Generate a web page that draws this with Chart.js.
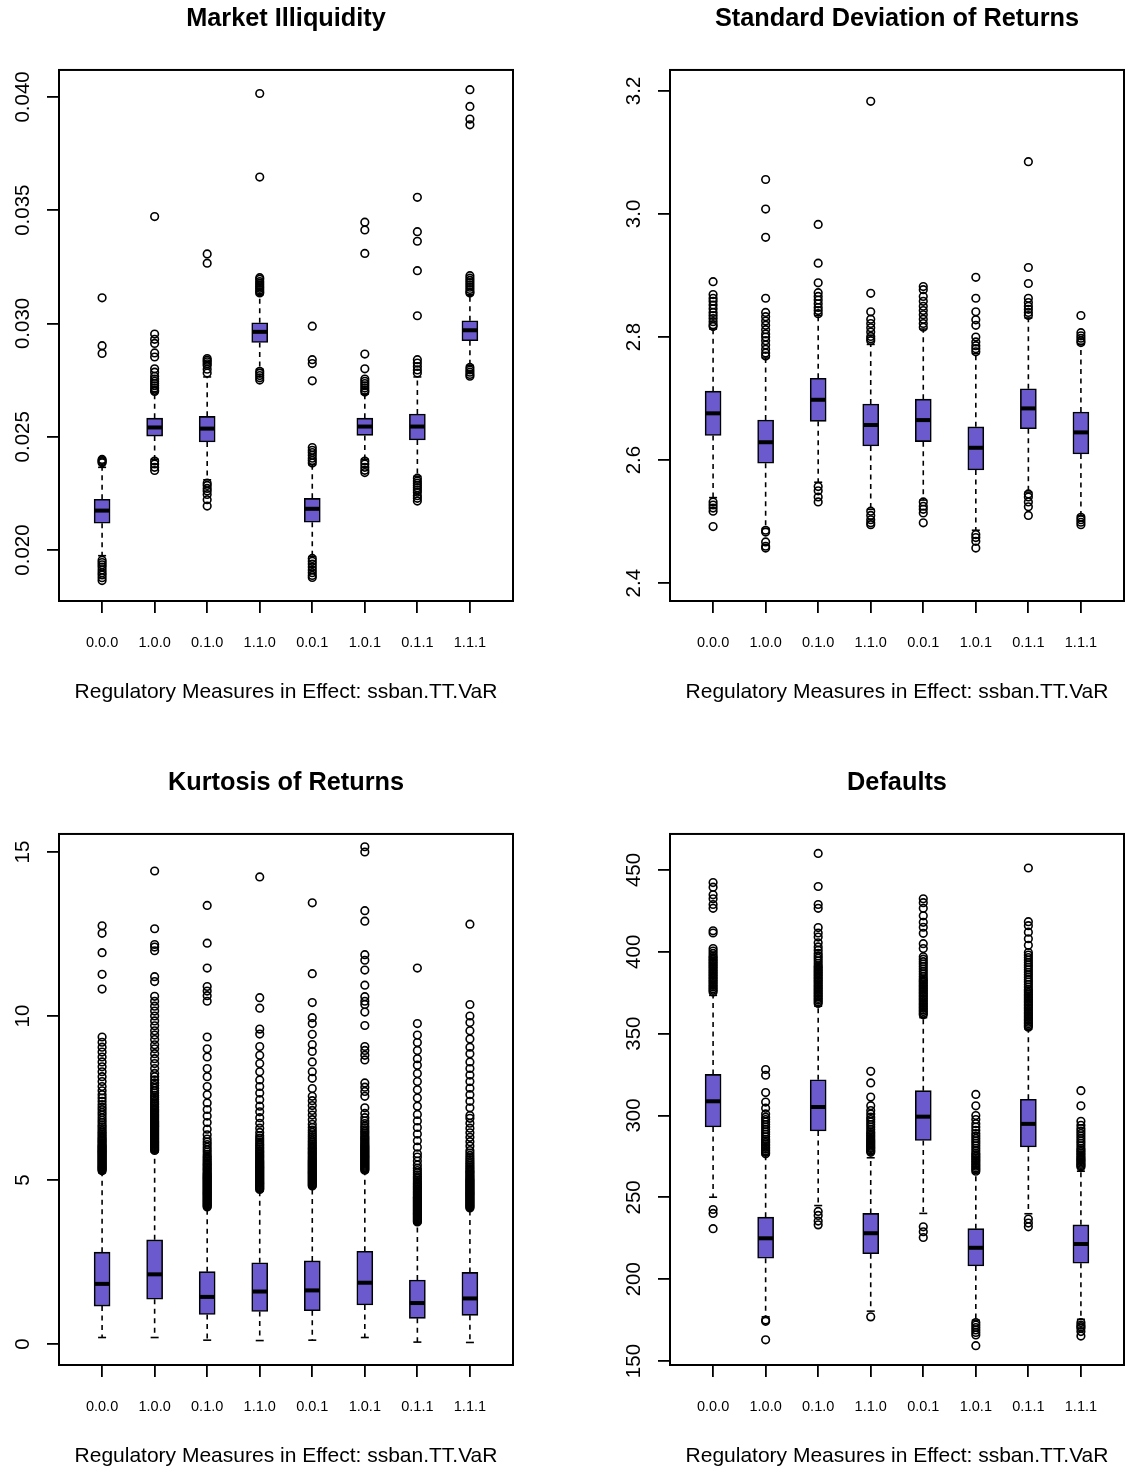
<!DOCTYPE html>
<html>
<head>
<meta charset="utf-8">
<title>Regulatory measures - boxplots</title>
<script src="https://cdn.jsdelivr.net/npm/chart.js@4.4.1/dist/chart.umd.min.js"></script>
<style>
	body { margin: 0; background: #fff; }
	#page { position: relative; width: 1130px; height: 1470px; overflow: hidden; }
	canvas { position: absolute; }
</style>
</head>
<body>
<div id="page">
	<canvas id="illiqChart" width="530" height="706" style="left:0;top:0"></canvas>
	<canvas id="sdChart" width="530" height="706" style="left:611px;top:0"></canvas>
	<canvas id="kurtChart" width="530" height="706" style="left:0;top:764px"></canvas>
	<canvas id="defaultChart" width="530" height="706" style="left:611px;top:764px"></canvas>
</div>
<script>
const categories = ["0.0.0", "1.0.0", "0.1.0", "1.1.0", "0.0.1", "1.0.1", "0.1.1", "1.1.1"];
const xAxisTitle = "Regulatory Measures in Effect: ssban.TT.VaR";

// Market Illiquidity
const illiqQ1 = [0.02118, 0.02503, 0.02477, 0.02916, 0.02123, 0.02506, 0.02486, 0.02924];
const illiqMed = [0.02174, 0.02541, 0.02536, 0.02963, 0.02182, 0.02545, 0.02545, 0.02970];
const illiqQ3 = [0.02224, 0.02582, 0.02590, 0.03003, 0.02228, 0.02582, 0.02600, 0.03012];
const illiqLo = [0.01975, 0.02401, 0.02310, 0.02798, 0.01971, 0.02401, 0.02326, 0.02815];
const illiqHi = [0.02365, 0.02697, 0.02764, 0.03127, 0.02376, 0.02688, 0.02764, 0.03127];
const illiqOut = [
	[0.03113, 0.02902, 0.02868, 0.02400, 0.02395, 0.02390, 0.02385, 0.01955, 0.01945, 0.01935, 0.01925, 0.01912, 0.01900, 0.01890, 0.01878, 0.01865],
	[0.03472, 0.02953, 0.02930, 0.02912, 0.02870, 0.02852, 0.02800, 0.02785, 0.02767, 0.02755, 0.02745, 0.02735, 0.02725, 0.02715, 0.02705, 0.02700, 0.02393, 0.02380, 0.02365, 0.02351],
	[0.03307, 0.03266, 0.02845, 0.02838, 0.02831, 0.02822, 0.02815, 0.02798, 0.02781, 0.02295, 0.02285, 0.02272, 0.02260, 0.02245, 0.02222, 0.02194],
	[0.04015, 0.03646, 0.03202, 0.03195, 0.03185, 0.03178, 0.03170, 0.03162, 0.03155, 0.03148, 0.03140, 0.03135, 0.02789, 0.02780, 0.02770, 0.02760, 0.02750],
	[0.02988, 0.02840, 0.02823, 0.02747, 0.02452, 0.02440, 0.02430, 0.02418, 0.02405, 0.02395, 0.02384, 0.01963, 0.01950, 0.01938, 0.01925, 0.01912, 0.01900, 0.01888, 0.01879],
	[0.03447, 0.03413, 0.03309, 0.02865, 0.02800, 0.02755, 0.02745, 0.02735, 0.02725, 0.02715, 0.02705, 0.02697, 0.02393, 0.02380, 0.02365, 0.02352, 0.02342],
	[0.03557, 0.03405, 0.03363, 0.03233, 0.03034, 0.02840, 0.02825, 0.02810, 0.02795, 0.02781, 0.02317, 0.02305, 0.02295, 0.02285, 0.02275, 0.02265, 0.02255, 0.02240, 0.02228, 0.02216],
	[0.04032, 0.03958, 0.03902, 0.03877, 0.03211, 0.03200, 0.03190, 0.03180, 0.03170, 0.03160, 0.03150, 0.03140, 0.03135, 0.02806, 0.02795, 0.02785, 0.02775, 0.02767]
];
const illiqTicks = [0.020, 0.025, 0.030, 0.035, 0.040];
const illiqTickLabels = ["0.020", "0.025", "0.030", "0.035", "0.040"];

// Standard Deviation of Returns
const sdQ1 = [2.640, 2.595, 2.663, 2.623, 2.630, 2.584, 2.651, 2.610];
const sdMed = [2.676, 2.629, 2.698, 2.657, 2.665, 2.620, 2.684, 2.645];
const sdQ3 = [2.712, 2.665, 2.733, 2.691, 2.699, 2.654, 2.716, 2.678];
const sdLo = [2.539, 2.489, 2.564, 2.520, 2.535, 2.486, 2.548, 2.510];
const sdHi = [2.813, 2.766, 2.835, 2.788, 2.813, 2.773, 2.831, 2.788];
const sdOut = [
	[2.890, 2.869, 2.863, 2.858, 2.852, 2.846, 2.840, 2.835, 2.830, 2.825, 2.820, 2.817, 2.532, 2.527, 2.522, 2.517, 2.492],
	[3.056, 3.008, 2.962, 2.863, 2.840, 2.833, 2.826, 2.819, 2.812, 2.805, 2.800, 2.794, 2.787, 2.780, 2.774, 2.769, 2.486, 2.483, 2.467, 2.460, 2.457],
	[2.983, 2.920, 2.888, 2.872, 2.866, 2.860, 2.854, 2.848, 2.843, 2.838, 2.557, 2.550, 2.540, 2.532],
	[3.183, 2.871, 2.841, 2.829, 2.822, 2.815, 2.808, 2.801, 2.797, 2.794, 2.517, 2.510, 2.503, 2.498, 2.495],
	[2.882, 2.877, 2.866, 2.858, 2.850, 2.843, 2.836, 2.829, 2.822, 2.816, 2.532, 2.525, 2.520, 2.514, 2.498],
	[2.897, 2.863, 2.841, 2.828, 2.819, 2.800, 2.792, 2.786, 2.781, 2.776, 2.479, 2.474, 2.468, 2.457],
	[3.085, 2.913, 2.887, 2.863, 2.856, 2.850, 2.845, 2.840, 2.835, 2.545, 2.540, 2.532, 2.524, 2.510],
	[2.835, 2.807, 2.802, 2.798, 2.794, 2.791, 2.507, 2.503, 2.499, 2.495]
];
const sdTicks = [2.4, 2.6, 2.8, 3.0, 3.2];
const sdTickLabels = ["2.4", "2.6", "2.8", "3.0", "3.2"];

// Kurtosis of Returns
const kurtQ1 = [1.156, 1.366, 0.899, 0.992, 1.016, 1.190, 0.782, 0.875];
const kurtMed = [1.833, 2.124, 1.436, 1.600, 1.634, 1.868, 1.249, 1.389];
const kurtQ3 = [2.800, 3.175, 2.206, 2.475, 2.533, 2.825, 1.949, 2.183];
const kurtLo = [0.198, 0.198, 0.117, 0.105, 0.117, 0.198, 0.058, 0.047];
const kurtHi = [5.22, 5.85, 4.15, 4.66, 4.78, 5.25, 3.68, 4.12];
const kurtOut = [
	[5.28, 5.31, 5.34, 5.37, 5.40, 5.43, 5.46, 5.49, 5.52, 5.55, 5.58, 5.61, 5.64, 5.67, 5.70, 5.73, 5.76, 5.79, 5.82, 5.85, 5.88, 5.91, 5.94, 5.97, 6.00, 6.03, 6.06, 6.10, 6.14, 6.18, 6.22, 6.26, 6.30, 6.35, 6.40, 6.45, 6.50, 6.56, 6.62, 6.68, 6.75, 6.82, 6.90, 6.98, 7.06, 7.14, 7.22, 7.30, 7.40, 7.50, 7.60, 7.72, 7.85, 8.00, 8.15, 8.30, 8.45, 8.60, 8.75, 8.90, 9.05, 9.20, 9.36, 10.82, 11.27, 11.93, 12.52, 12.75],
	[5.90, 5.93, 5.96, 5.99, 6.02, 6.05, 6.08, 6.11, 6.14, 6.17, 6.20, 6.23, 6.26, 6.29, 6.32, 6.35, 6.38, 6.41, 6.44, 6.47, 6.50, 6.53, 6.56, 6.59, 6.62, 6.65, 6.68, 6.71, 6.74, 6.77, 6.80, 6.84, 6.88, 6.92, 6.96, 7.00, 7.04, 7.08, 7.12, 7.16, 7.20, 7.25, 7.30, 7.35, 7.40, 7.46, 7.52, 7.58, 7.65, 7.72, 7.80, 7.88, 7.96, 8.05, 8.15, 8.25, 8.40, 8.55, 8.70, 8.85, 9.00, 9.12, 9.28, 9.42, 9.55, 9.70, 9.85, 10.00, 10.15, 10.30, 10.45, 10.60, 11.05, 11.20, 11.99, 12.10, 12.18, 12.66, 14.42],
	[4.18, 4.21, 4.24, 4.27, 4.30, 4.33, 4.36, 4.39, 4.42, 4.45, 4.48, 4.51, 4.54, 4.57, 4.60, 4.63, 4.66, 4.69, 4.72, 4.75, 4.78, 4.81, 4.84, 4.87, 4.90, 4.93, 4.96, 4.99, 5.02, 5.05, 5.08, 5.11, 5.14, 5.17, 5.20, 5.24, 5.28, 5.32, 5.36, 5.40, 5.44, 5.48, 5.52, 5.57, 5.62, 5.67, 5.72, 5.78, 5.85, 5.92, 6.00, 6.08, 6.16, 6.25, 6.38, 6.55, 6.75, 6.95, 7.15, 7.35, 7.60, 7.85, 8.15, 8.40, 8.75, 9.00, 9.36, 10.45, 10.62, 10.76, 10.90, 11.46, 12.22, 13.37],
	[4.71, 4.74, 4.77, 4.80, 4.83, 4.86, 4.89, 4.92, 4.95, 4.98, 5.01, 5.04, 5.07, 5.10, 5.13, 5.16, 5.19, 5.22, 5.25, 5.28, 5.31, 5.34, 5.37, 5.40, 5.43, 5.46, 5.49, 5.52, 5.55, 5.58, 5.62, 5.66, 5.70, 5.74, 5.78, 5.82, 5.86, 5.90, 5.95, 6.00, 6.05, 6.10, 6.16, 6.22, 6.28, 6.35, 6.45, 6.58, 6.73, 6.90, 7.08, 7.25, 7.45, 7.65, 7.85, 8.05, 8.30, 8.55, 8.80, 9.07, 9.45, 9.60, 10.24, 10.56, 14.24],
	[4.82, 4.85, 4.88, 4.91, 4.94, 4.97, 5.00, 5.03, 5.06, 5.09, 5.12, 5.15, 5.18, 5.21, 5.24, 5.27, 5.30, 5.33, 5.36, 5.39, 5.42, 5.45, 5.48, 5.51, 5.54, 5.57, 5.60, 5.64, 5.68, 5.72, 5.76, 5.80, 5.84, 5.88, 5.92, 5.96, 6.00, 6.05, 6.10, 6.15, 6.20, 6.26, 6.32, 6.38, 6.45, 6.52, 6.60, 6.70, 6.84, 6.98, 7.12, 7.27, 7.42, 7.55, 7.79, 8.10, 8.30, 8.60, 8.92, 9.13, 9.44, 9.77, 9.95, 10.41, 11.29, 13.45],
	[5.30, 5.33, 5.36, 5.39, 5.42, 5.45, 5.48, 5.51, 5.54, 5.57, 5.60, 5.63, 5.66, 5.69, 5.72, 5.75, 5.78, 5.81, 5.84, 5.87, 5.90, 5.93, 5.96, 5.99, 6.02, 6.05, 6.09, 6.13, 6.17, 6.21, 6.25, 6.29, 6.33, 6.38, 6.43, 6.48, 6.53, 6.59, 6.65, 6.72, 6.80, 6.90, 7.03, 7.20, 7.55, 7.70, 7.83, 7.96, 8.66, 8.80, 8.95, 9.07, 9.71, 10.12, 10.35, 10.45, 10.59, 10.94, 11.40, 11.70, 11.87, 12.89, 13.21, 15.00, 15.16],
	[3.72, 3.75, 3.78, 3.81, 3.84, 3.87, 3.90, 3.93, 3.96, 3.99, 4.02, 4.05, 4.08, 4.11, 4.14, 4.17, 4.20, 4.23, 4.26, 4.29, 4.32, 4.35, 4.38, 4.41, 4.44, 4.47, 4.50, 4.54, 4.58, 4.62, 4.66, 4.70, 4.74, 4.78, 4.82, 4.86, 4.90, 4.95, 5.00, 5.05, 5.10, 5.16, 5.22, 5.29, 5.36, 5.46, 5.58, 5.70, 5.80, 6.00, 6.20, 6.40, 6.60, 6.80, 7.00, 7.25, 7.50, 7.75, 8.00, 8.25, 8.50, 8.70, 8.95, 9.19, 9.42, 9.77, 11.46],
	[4.15, 4.18, 4.21, 4.24, 4.27, 4.30, 4.33, 4.36, 4.39, 4.42, 4.45, 4.48, 4.51, 4.54, 4.57, 4.60, 4.63, 4.66, 4.69, 4.72, 4.75, 4.78, 4.81, 4.84, 4.87, 4.90, 4.93, 4.96, 4.99, 5.02, 5.06, 5.10, 5.14, 5.18, 5.22, 5.26, 5.30, 5.35, 5.40, 5.45, 5.50, 5.56, 5.62, 5.68, 5.75, 5.82, 5.90, 6.04, 6.17, 6.30, 6.44, 6.58, 6.73, 6.88, 6.97, 7.20, 7.40, 7.60, 7.80, 8.00, 8.20, 8.40, 8.60, 8.85, 9.05, 9.30, 9.55, 9.80, 10.00, 10.35, 12.80]
];
const kurtTicks = [0, 5, 10, 15];
const kurtTickLabels = ["0", "5", "10", "15"];

// Defaults
const defQ1 = [293.0, 212.8, 290.6, 215.6, 284.8, 208.1, 280.8, 209.8];
const defMed = [308.7, 225.0, 305.2, 228.1, 299.3, 219.2, 294.9, 221.5];
const defQ3 = [325.1, 237.9, 321.8, 240.2, 315.2, 230.9, 309.9, 233.2];
const defLo = [250.1, 177.0, 245.0, 180.5, 240.2, 175.0, 240.0, 175.5];
const defHi = [373.4, 275.9, 366.8, 274.2, 359.8, 264.9, 352.7, 266.0];
const defOut = [
	[375.5, 376.5, 377.5, 378.5, 379.5, 380.5, 381.5, 382.5, 383.5, 384.5, 385.5, 386.5, 387.5, 388.5, 389.5, 390.5, 391.5, 392.5, 393.5, 394.5, 395.5, 396.5, 397.5, 399, 400.5, 402, 411.5, 412.8, 426.6, 428.9, 432.4, 434.8, 439.5, 442.3, 242.6, 240.2, 230.9],
	[276.6, 277.5, 278.5, 279.5, 280.5, 281.5, 282.5, 283.5, 284.5, 285.5, 287, 288.5, 290, 291.5, 293, 294.5, 296, 297.5, 299, 301, 304.5, 308.2, 314, 324.6, 328.1, 175.1, 174.3, 163.0],
	[368.5, 369.5, 370.5, 371.5, 372.5, 373.5, 374.5, 375.5, 376.5, 377.5, 378.5, 379.5, 380.5, 381.5, 382.5, 383.5, 384.5, 385.5, 386.5, 387.5, 388.5, 389.5, 390.5, 391.5, 393, 394.5, 396, 397.5, 399, 401, 403, 405.5, 409, 411.5, 414.8, 426.6, 428.9, 439.9, 460.1, 241.4, 239, 235.5, 233.2],
	[277.5, 278.3, 279, 279.8, 280.5, 281.3, 282, 282.8, 283.5, 284.3, 285, 286, 287, 288, 289, 290, 291.5, 293, 294.5, 296, 297.5, 299, 301, 303, 306, 311.3, 319.9, 327, 177],
	[361.5, 362.5, 363.5, 364.5, 365.5, 366.5, 367.5, 368.5, 369.5, 370.5, 371.5, 372.5, 373.5, 374.5, 375.5, 376.5, 377.5, 378.5, 379.5, 380.5, 381.5, 382.5, 383.5, 385, 386.5, 388, 389.5, 391, 392.5, 394, 395.5, 397, 402, 405, 411.3, 415, 418, 422, 426.6, 430, 432.4, 232, 229, 225.5],
	[266, 267, 268, 269, 270, 271, 272, 273, 274, 275, 276, 277, 278.5, 280, 281.5, 283, 284.5, 286, 287.5, 289, 291, 293, 295, 297.5, 300, 305.9, 312.9, 173.5, 172, 170.5, 169, 167.5, 166, 159.4],
	[354, 355, 356, 357, 358, 359, 360, 361, 362, 363, 364, 365, 366, 367, 368, 369, 370, 371, 372, 373, 374, 375, 376, 377, 378.5, 380, 381.5, 383, 384.5, 386, 387.5, 389, 390.5, 392, 393.5, 395, 396.5, 398, 399.6, 404, 408, 412, 416, 418.4, 451.2, 236.8, 234.3, 232],
	[268.5, 269.3, 270.1, 270.9, 271.7, 272.5, 273.3, 274.1, 275, 276, 277, 278, 279, 280, 281.5, 283, 284.5, 286, 287.5, 289, 290.5, 292, 294, 296.5, 305.9, 315.2, 173.5, 172, 171, 170, 168, 165.3]
];
const defTicks = [150, 200, 250, 300, 350, 400, 450];
const defTickLabels = ["150", "200", "250", "300", "350", "400", "450"];

const FONT = '"Liberation Sans", Helvetica, Arial, sans-serif';
const BOX_FILL = "#6A5ACD";
const Y_TICK_FONT = 20.5;

Chart.defaults.font.family = FONT;
Chart.defaults.color = "#000";

// plot frame like R's box()
const framePlugin = {
	id: "frame",
	afterDatasetsDraw(chart) {
		const a = chart.chartArea;
		const ctx = chart.ctx;
		ctx.save();
		ctx.strokeStyle = "#000";
		ctx.lineWidth = 2;
		ctx.strokeRect(a.left, a.top, a.right - a.left, a.bottom - a.top);
		ctx.restore();
	}
};

// y labels are rotated and centered; keep their centre 36px left of the frame
function yLabelPadding(labels) {
	const c = document.createElement("canvas").getContext("2d");
	c.font = Y_TICK_FONT + "px " + FONT;
	const widest = Math.max(...labels.map(l => c.measureText(l).width));
	return 36 - 12 - widest / 2;
}

function drawBoxplot(canvasId, title, q1, med, q3, lo, hi, outliers, yMin, yMax, yTicks, yTickLabels) {
	const pos = (i) => i + 1;

	const whiskers = [];
	const caps = [];
	categories.forEach((c, i) => {
		whiskers.push({ x: pos(i), y: q3[i] }, { x: pos(i), y: hi[i] }, { x: pos(i), y: null });
		whiskers.push({ x: pos(i), y: q1[i] }, { x: pos(i), y: lo[i] }, { x: pos(i), y: null });
		caps.push({ x: pos(i), y: hi[i] }, { x: pos(i), y: lo[i] });
	});
	const points = outliers.flatMap((arr, i) => arr.map(v => ({ x: pos(i), y: v })));

	new Chart(document.getElementById(canvasId), {
		type: "bar",
		data: {
			datasets: [
				{
					type: "scatter",
					label: "outliers",
					data: points,
					pointStyle: "circle",
					pointRadius: 3.8,
					pointBorderWidth: 1.6,
					pointBorderColor: "#000",
					pointBackgroundColor: "rgba(0,0,0,0)",
					order: 1
				},
				{
					type: "scatter",
					label: "median",
					data: med.map((v, i) => ({ x: pos(i), y: v })),
					pointStyle: "line",
					pointRadius: 7.5,
					pointBorderWidth: 4,
					pointBorderColor: "#000",
					order: 2
				},
				{
					type: "scatter",
					label: "caps",
					data: caps,
					pointStyle: "line",
					pointRadius: 4,
					pointBorderWidth: 1.6,
					pointBorderColor: "#000",
					order: 3
				},
				{
					type: "bar",
					label: "box",
					data: categories.map((c, i) => ({ x: pos(i), y: [q1[i], q3[i]] })),
					backgroundColor: BOX_FILL,
					borderColor: "#000",
					borderWidth: 1.6,
					borderSkipped: false,
					barThickness: 16,
					order: 4
				},
				{
					type: "line",
					label: "whiskers",
					data: whiskers,
					borderColor: "#000",
					borderWidth: 1.6,
					borderDash: [5, 4.5],
					pointRadius: 0,
					spanGaps: false,
					fill: false,
					order: 5
				}
			]
		},
		options: {
			responsive: false,
			animation: false,
			events: [],
			// canvas is 530 wide; the plot frame should end at x = 513
			layout: { padding: { left: 0, right: 17, top: 0, bottom: 0 } },
			plugins: {
				legend: { display: false },
				tooltip: { enabled: false },
				title: {
					display: true,
					fullSize: false,
					text: title,
					font: { size: 25.3, weight: "bold" },
					padding: { top: 4, bottom: 35.6 }
				}
			},
			scales: {
				x: {
					type: "linear",
					min: 0.18,
					max: 8.82,
					offset: false,
					afterBuildTicks: (s) => { s.ticks = categories.map((c, i) => ({ value: pos(i) })); },
					afterFit: (s) => { s.height = 105; },
					ticks: {
						font: { size: 14.5 },
						padding: 21,
						maxRotation: 0,
						minRotation: 0,
						callback: (v, i) => categories[i]
					},
					grid: { offset: false, drawOnChartArea: false, drawTicks: true, tickLength: 12, color: "#000", lineWidth: 1.8 },
					border: { display: true, color: "#000", width: 2 },
					title: { display: true, text: xAxisTitle, font: { size: 21 }, padding: { top: 0, bottom: 1.5 } }
				},
				y: {
					type: "linear",
					min: yMin,
					max: yMax,
					afterBuildTicks: (s) => { s.ticks = yTicks.map(v => ({ value: v })); },
					afterFit: (s) => { s.width = 59; },
					ticks: {
						font: { size: Y_TICK_FONT },
						minRotation: 90,
						maxRotation: 90,
						crossAlign: "center",
						padding: yLabelPadding(yTickLabels),
						callback: (v, i) => yTickLabels[i]
					},
					grid: { drawOnChartArea: false, drawTicks: true, tickLength: 12, color: "#000", lineWidth: 1.8 },
					border: { display: true, color: "#000", width: 2 }
				}
			}
		},
		plugins: [framePlugin]
	});
}

drawBoxplot("illiqChart", "Market Illiquidity", illiqQ1, illiqMed, illiqQ3, illiqLo, illiqHi, illiqOut, 0.01775, 0.04119, illiqTicks, illiqTickLabels);
drawBoxplot("sdChart", "Standard Deviation of Returns", sdQ1, sdMed, sdQ3, sdLo, sdHi, sdOut, 2.371, 3.234, sdTicks, sdTickLabels);
drawBoxplot("kurtChart", "Kurtosis of Returns", kurtQ1, kurtMed, kurtQ3, kurtLo, kurtHi, kurtOut, -0.64, 15.55, kurtTicks, kurtTickLabels);
drawBoxplot("defaultChart", "Defaults", defQ1, defMed, defQ3, defLo, defHi, defOut, 147.6, 472.0, defTicks, defTickLabels);
</script>
</body>
</html>
